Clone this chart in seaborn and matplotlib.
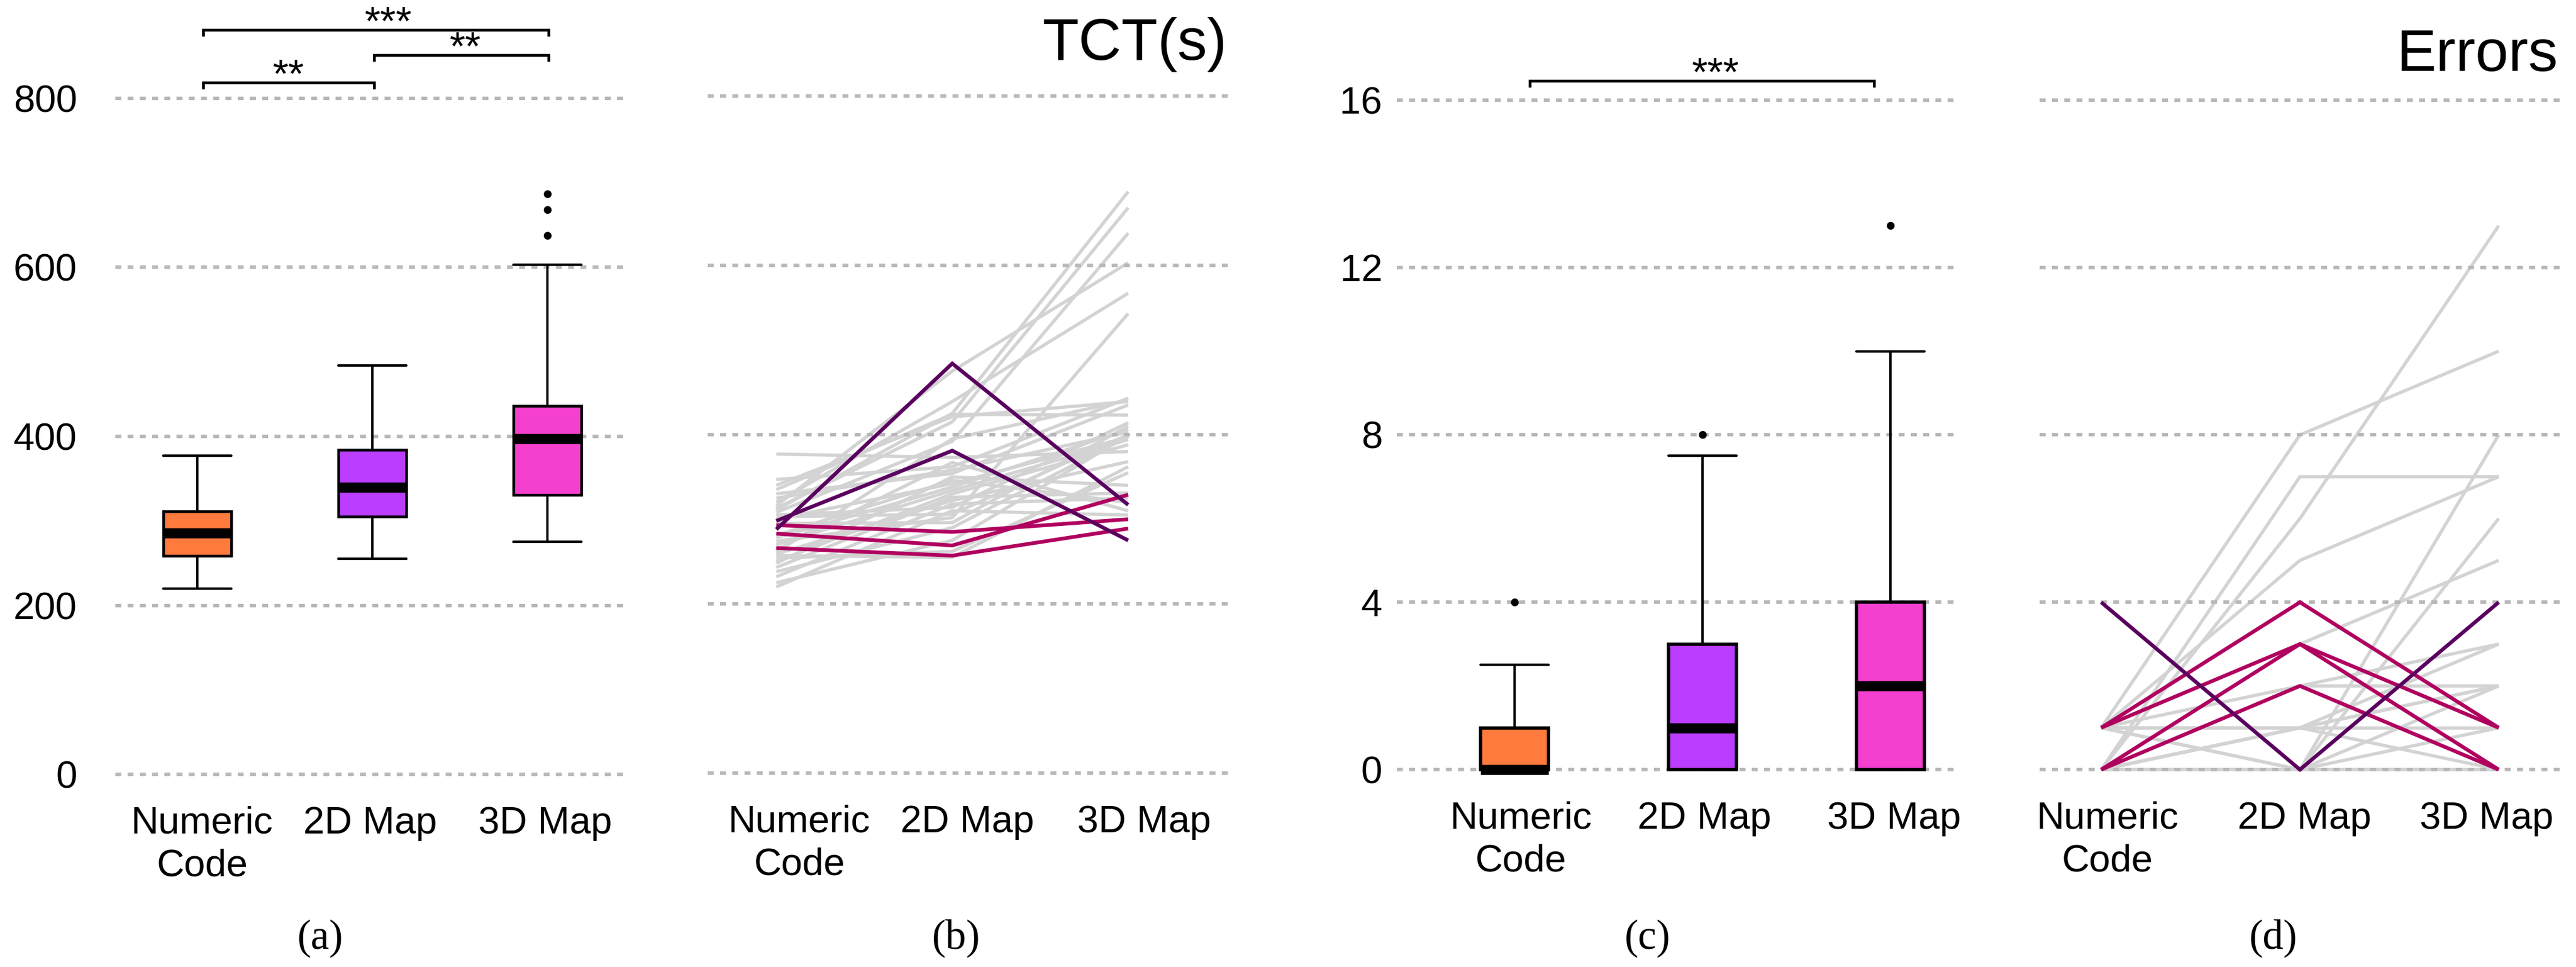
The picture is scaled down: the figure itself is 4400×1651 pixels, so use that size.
import pandas as pd
import matplotlib
matplotlib.use("Agg")
import matplotlib.pyplot as plt
import seaborn as sns

# categories and axis ticks
conditions = ["Numeric\nCode", "2D Map", "3D Map"]
tct_ticks = [0, 200, 400, 600, 800]
err_ticks = [0, 4, 8, 12, 16]
box_colors = ["#FF7A3D", "#BB3DFF", "#F53FCF"]

# TCT per participant, grey lines
tct_numeric_gray = [377, 347, 340, 335, 330, 325, 320, 316, 313, 311, 308, 305, 303, 300, 295, 281,
                    278, 274, 270, 264, 261, 259, 257, 254, 250, 248, 243, 238, 232, 225, 220]
tct_2d_gray = [373, 362, 421, 424, 354, 358, 439, 475, 415, 425, 392, 314, 306, 342, 296, 346,
               338, 302, 334, 367, 395, 322, 255, 262, 330, 350, 326, 290, 318, 275, 310]
tct_3d_gray = [380, 443, 439, 423, 435, 403, 567, 603, 668, 687, 638, 414, 400, 397, 410, 320,
               406, 543, 394, 310, 441, 368, 362, 355, 388, 340, 331, 398, 325, 399, 305]
# highlighted participants
tct_numeric_dark = [288, 298]
tct_2d_dark = [484, 381]
tct_3d_dark = [317, 275]
tct_numeric_red = [293, 283, 266]
tct_2d_red = [285, 269, 257]
tct_3d_red = [300, 329, 289]

# errors per participant
err_numeric_gray = [1, 0, 1, 0, 0, 1, 0, 0, 1, 0, 1, 0, 0, 0, 1, 0, 0, 1]
err_2d_gray = [8, 7, 5, 6, 3, 0, 0, 2, 2, 1, 1, 1, 0, 0, 0, 1, 0, 1]
err_3d_gray = [10, 7, 7, 13, 5, 8, 6, 3, 2, 3, 2, 2, 2, 1, 0, 0, 0, 1]
err_numeric_dark = [4]
err_2d_dark = [0]
err_3d_dark = [4]
err_numeric_red = [1, 1, 0, 0]
err_2d_red = [4, 3, 3, 2]
err_3d_red = [1, 1, 0, 0]

# samples behind the error boxes
err_box_numeric = [0, 0, 0, 0, 0, 0, 0, 0, 0, 0, 0, 0, 0, 1, 1, 1, 1, 1, 1, 2, 2.5, 4]
err_box_2d = [0, 0, 0, 0, 0, 0, 0, 1, 1, 1, 1, 1, 2, 2, 2, 3, 3, 3, 4, 5, 7.5, 8]
err_box_3d = [0, 0, 0, 0, 0, 0, 0, 1, 1, 1, 2, 2, 2, 3, 3, 4, 4, 4, 5, 7, 10, 13]

# significance brackets: x0, x1, height, stars
tct_brackets = [(0.035, 2.007, 881, "***", 1.09), (1.01, 2.007, 851, "**", 1.53), (0.035, 1.01, 819, "**", 0.52)]
err_brackets = [(0.08, 1.913, 16.46, "***", 1.07)]

W, H = 4400, 1651
GRAY_LINE = "#D3D3D3"
DARK_LINE = "#5A005F"
RED_LINE = "#B0005F"
GRID = "#B8B8B8"

sns.set_theme(style="white")
plt.rcParams["font.family"] = ["Liberation Sans", "DejaVu Sans"]

fig = plt.figure(figsize=(W / 100, H / 100), dpi=100, facecolor="white")


def long_table(numeric, map2d, map3d):
    rows = []
    for i, vals in enumerate(zip(numeric, map2d, map3d)):
        for cond, v in zip(conditions, vals):
            rows.append({"participant": i, "condition": cond, "value": v})
    return pd.DataFrame(rows)


def make_axes(left, right, first, step, y_top, y_zero, ticks):
    # axes run from the top of the figure to just under the zero line
    per_px = ticks[-1] / (y_zero - y_top)
    bottom_px = y_zero + 44
    ax = fig.add_axes([left / W, 1 - bottom_px / H, (right - left) / W, bottom_px / H])
    ax.set_facecolor("none")
    limits = dict(x=((left - first) / step, (right - first) / step),
                  y=(-44 * per_px, ticks[-1] + y_top * per_px))
    return ax, limits


def finish_axes(ax, limits, ticks, label_pos, tick_pad=None, grid_on_top=False):
    ax.set_xlim(*limits["x"])
    ax.set_ylim(*limits["y"])
    ax.set_yticks(ticks)
    ax.set_xticks(label_pos)
    ax.set_xticklabels(conditions, fontsize=47, linespacing=1.27)
    ax.set_xlabel("")
    ax.set_ylabel("")
    if tick_pad is None:
        ax.set_yticklabels([])
    else:
        ax.tick_params(axis="y", labelsize=47, pad=tick_pad, colors="black")
    ax.tick_params(axis="both", length=0)
    ax.tick_params(axis="x", pad=7, colors="black")
    ax.grid(axis="x", visible=False)
    ax.grid(axis="y", visible=True, color=GRID, linewidth=4.3, linestyle=(0, (1.7, 1.8)))
    ax.set_axisbelow(not grid_on_top)
    sns.despine(ax=ax, left=True, bottom=True)


def draw_box(ax, table, width, whis, linewidth, median_lw):
    sns.boxplot(data=table, x="condition", y="value", hue="condition", order=conditions,
                hue_order=conditions, palette=box_colors, saturation=1, width=width, whis=whis,
                ax=ax, legend=False, linecolor="black", linewidth=linewidth, fliersize=8.6,
                capwidths=width,
                whiskerprops=dict(linewidth=2.9), capprops=dict(linewidth=3.1),
                medianprops=dict(linewidth=median_lw, solid_capstyle="butt"),
                flierprops=dict(marker="o", markerfacecolor="black", markeredgecolor="black"))


def draw_lines(ax, gray, dark, red):
    common = dict(x="condition", y="value", units="participant", estimator=None, sort=False,
                  ax=ax, legend=False, solid_capstyle="butt", solid_joinstyle="miter")
    sns.lineplot(data=gray, color=GRAY_LINE, linewidth=4, zorder=2, **common)
    sns.lineplot(data=red, color=RED_LINE, linewidth=4.6, zorder=3, **common)
    sns.lineplot(data=dark, color=DARK_LINE, linewidth=4.6, zorder=4, **common)


def draw_brackets(ax, brackets, drop, star_gap):
    for x0, x1, y, stars, star_x in brackets:
        ax.plot([x0, x0, x1, x1], [y - drop, y, y, y - drop], color="black", linewidth=3.4,
                solid_joinstyle="miter", solid_capstyle="butt", clip_on=False)
        ax.text(star_x, y + star_gap, stars, fontsize=50, ha="center", va="center", color="black")


# (a) TCT boxes
tct_box = long_table(tct_numeric_gray + tct_numeric_dark + tct_numeric_red,
                     tct_2d_gray + tct_2d_dark + tct_2d_red,
                     tct_3d_gray + tct_3d_dark + tct_3d_red)
ax_a, lim_a = make_axes(197, 1074, 337, 299, 168, 1322, [0, 800])
draw_box(ax_a, tct_box, 0.388, 1.6, 3.3, 12.5)
draw_brackets(ax_a, tct_brackets, 7.6, 7)
finish_axes(ax_a, lim_a, tct_ticks, [0.027, 0.987, 1.987], tick_pad=47)

# (b) TCT lines
ax_b, lim_b = make_axes(1209, 2098, 1326, 300.5, 164, 1320, [0, 800])
draw_lines(ax_b, long_table(tct_numeric_gray, tct_2d_gray, tct_3d_gray),
           long_table(tct_numeric_dark, tct_2d_dark, tct_3d_dark),
           long_table(tct_numeric_red, tct_2d_red, tct_3d_red))
finish_axes(ax_b, lim_b, tct_ticks, [0.13, 1.087, 2.09], grid_on_top=True)

# (c) error boxes
err_box = long_table(err_box_numeric, err_box_2d, err_box_3d)
ax_c, lim_c = make_axes(2386, 3344, 2587, 321, 171, 1314, [0, 16])
draw_box(ax_c, err_box, 0.36, 1.5, 4, 12.5)
draw_brackets(ax_c, err_brackets, 0.154, 0.14)
finish_axes(ax_c, lim_c, err_ticks, [0.034, 1.01, 2.02], tick_pad=18)

# (d) error lines
ax_d, lim_d = make_axes(3484, 4372, 3589, 339.5, 171, 1314, [0, 16])
draw_lines(ax_d, long_table(err_numeric_gray, err_2d_gray, err_3d_gray),
           long_table(err_numeric_dark, err_2d_dark, err_3d_dark),
           long_table(err_numeric_red, err_2d_red, err_3d_red))
finish_axes(ax_d, lim_d, err_ticks, [0.032, 1.024, 1.94], grid_on_top=True)

# titles and captions
fig.text(2096 / W, 1 - 102 / H, "TCT(s)", fontsize=73, ha="right", va="baseline", color="black")
fig.text(4370 / W, 1 - 121 / H, "Errors", fontsize=73, ha="right", va="baseline", color="black")
for label, px in zip(["(a)", "(b)", "(c)", "(d)"], [547, 1633, 2814, 3883]):
    fig.text(px / W, 1 - 1602 / H, label, fontsize=51, ha="center", va="center",
             family=["Liberation Serif", "DejaVu Serif"], color="black")

fig.savefig("out.png", dpi=100, facecolor="white")
